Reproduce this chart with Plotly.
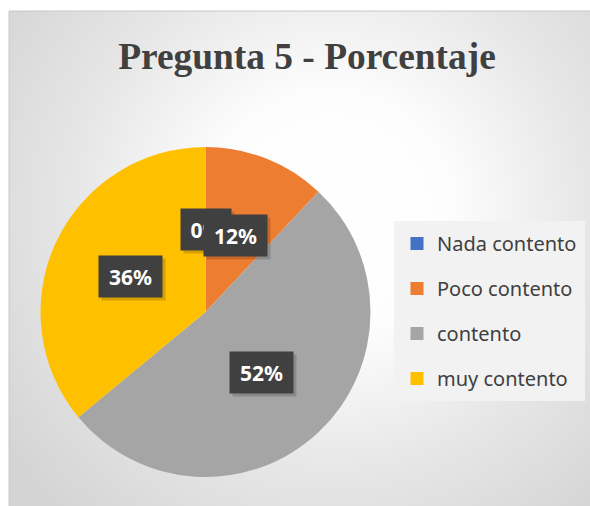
import base64
import math
import plotly.graph_objects as go

# ---- data ----
categories = ["Nada contento", "Poco contento", "contento", "muy contento"]
values = [0, 12, 52, 36]
colors = ["#4472C4", "#ED7D31", "#A5A5A5", "#FFC000"]
title_text = "Pregunta 5 - Porcentaje"

W, H = 590, 506

# pie domain in pixels
px0, px1 = 40, 371
py0, py1 = 147, 477  # from top
cx, cy = (px0 + px1) / 2, (py0 + py1) / 2
R = min(px1 - px0, py1 - py0) / 2

fig = go.Figure()

fig.add_trace(go.Pie(
    labels=categories,
    values=values,
    marker=dict(colors=colors, line=dict(width=0)),
    sort=False,
    direction="clockwise",
    rotation=0,
    textinfo="none",
    showlegend=False,
    domain=dict(x=[px0 / W, px1 / W], y=[1 - py1 / H, 1 - py0 / H]),
    hovertemplate="%{label}: %{percent}<extra></extra>",
))

# legend entries
for name, c in zip(categories, colors):
    fig.add_trace(go.Scatter(
        x=[None], y=[None], mode="markers", name=name, legendgroup=name,
        marker=dict(symbol="square", size=13, color=c),
    ))

# data labels computed from values
total = sum(values)
ann = []
shadows = []
cum = 0
for v in values:
    mid = 90 - 360 * (cum + v / 2) / total
    cum += v
    th = math.radians(mid)
    lx = cx + 0.5 * R * math.cos(th)
    ly = cy - 0.5 * R * math.sin(th)
    txt = f"{round(100 * v / total)}%"
    common = dict(xref="paper", yref="paper", x=lx / W, y=1 - ly / H,
                  xanchor="center", yanchor="middle", showarrow=False,
                  width=13 * len(txt) + 20, height=37, borderpad=2)
    shadows.append(dict(text=" ", bgcolor="rgba(0,0,0,0.16)",
                        xshift=3, yshift=-3, **common))
    ann.append(dict(text=f"<b>{txt}</b>", bgcolor="#404040",
                    font=dict(family="Noto Sans", size=21, color="white"),
                    **common))

# background radial gradient (chart area)
bw, bh = W - 9, H - 11
svg = f'''<svg xmlns="http://www.w3.org/2000/svg" width="{bw}" height="{bh}" viewBox="0 0 {bw} {bh}" preserveAspectRatio="none">
<defs><radialGradient id="g" gradientUnits="userSpaceOnUse" cx="{330-9}" cy="{215-11}" r="400">
<stop offset="0" stop-color="#ffffff"/><stop offset="0.3" stop-color="#fdfdfd"/>
<stop offset="0.65" stop-color="#e6e6e6"/><stop offset="1" stop-color="#d4d4d4"/></radialGradient></defs>
<rect x="0" y="0" width="{bw}" height="{bh}" fill="url(#g)"/></svg>'''
src = "data:image/svg+xml;base64," + base64.b64encode(svg.encode()).decode()

fig.update_layout(
    width=W, height=H,
    margin=dict(l=0, r=0, t=0, b=0),
    paper_bgcolor="white",
    plot_bgcolor="rgba(0,0,0,0)",
    xaxis=dict(visible=False),
    yaxis=dict(visible=False),
    images=[dict(source=src, xref="paper", yref="paper", x=9 / W, y=1 - 11 / H,
                 sizex=bw / W, sizey=bh / H, sizing="stretch", layer="below",
                 xanchor="left", yanchor="top")],
    shapes=[dict(type="rect", xref="paper", yref="paper", x0=9 / W, x1=1.01,
                 y0=-0.01, y1=1 - 11 / H, line=dict(color="#c8c8c8", width=1),
                 fillcolor="rgba(0,0,0,0)", layer="below")],
    title=dict(text=f"<b>{title_text}</b>", x=307 / W, xanchor="center",
               y=1 - 56 / H, yanchor="middle", xref="paper", yref="paper",
               font=dict(family="Liberation Serif", size=37.4, color="#404040")),
    legend=dict(x=394 / W, xanchor="left", y=1 - 221 / H, yanchor="top",
                bgcolor="#f2f2f2", bordercolor="#f2f2f2", borderwidth=3,
                font=dict(family="Noto Sans", size=20, color="#404040"),
                tracegroupgap=16, itemwidth=30),
    annotations=shadows + ann,
)

fig.write_html("out.html", config={"displayModeBar": False},
               post_script="document.body.style.margin='0';")
